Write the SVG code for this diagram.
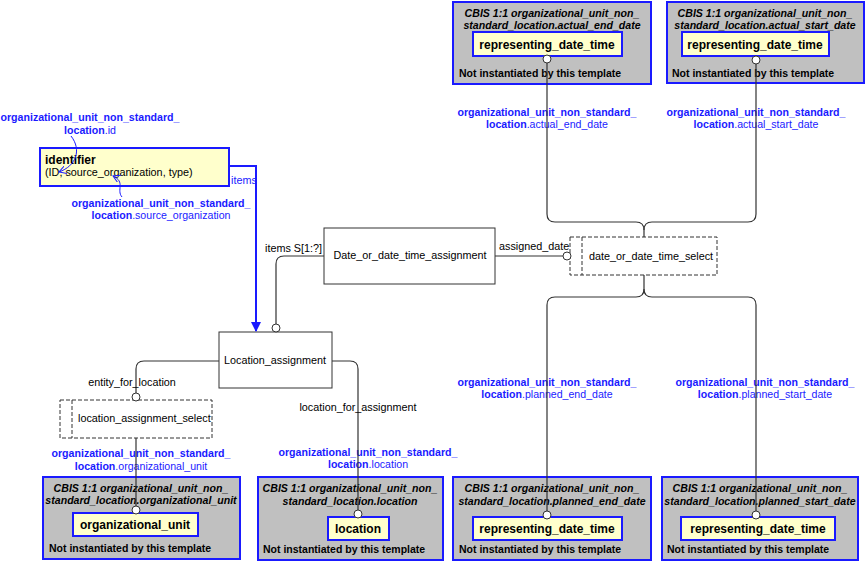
<svg xmlns="http://www.w3.org/2000/svg" width="865" height="561" viewBox="0 0 865 561">
<style>
text{font-family:"Liberation Sans",Arial,sans-serif;font-size:10.8px;fill:#000}
.b{font-weight:bold}
.bl{fill:#1a1aff;font-size:10.6px}
.t{font-weight:bold;font-style:italic;text-anchor:middle;font-size:10.6px}
.c{text-anchor:middle}
.y{font-weight:bold;font-size:12px;text-anchor:middle}
.n{font-weight:bold;font-size:10.5px}
.grey{fill:#c0c0c0;stroke:#1a1aff;stroke-width:2}
.yel{fill:#ffffcc;stroke:#1a1aff;stroke-width:2}
.ent{fill:#fff;stroke:#333;stroke-width:1}
.sel{fill:#fff;stroke:#333;stroke-width:1;stroke-dasharray:4,2}
.ln{fill:none;stroke:#333;stroke-width:1.2}
.circ{fill:#fff;stroke:#333;stroke-width:1}
.blue{fill:none;stroke:#1a1aff;stroke-width:2}
.bthin{fill:none;stroke:#1a1aff;stroke-width:1}
</style>
<defs>
<marker id="ah" markerWidth="10" markerHeight="10" refX="9" refY="5" orient="auto" markerUnits="userSpaceOnUse">
<path d="M0,0 L10,5 L0,10 Z" fill="#1a1aff"/>
</marker>
<marker id="oa" markerWidth="8" markerHeight="8" refX="7" refY="4" orient="auto" markerUnits="userSpaceOnUse">
<path d="M0,0 L7,4 L0,8" fill="none" stroke="#1a1aff" stroke-width="1"/>
</marker>
</defs>

<g id="label_id">
<text x="90" y="121" class="c bl b">organizational_unit_non_standard_</text>
<text x="90" y="134" class="c bl"><tspan class="b">location</tspan>.id</text>
</g>
<g id="label_source_org">
<text x="161" y="207" class="c bl b">organizational_unit_non_standard_</text>
<text x="161" y="219" class="c bl"><tspan class="b">location</tspan>.source_organization</text>
</g>
<g id="label_actual_end">
<text x="547" y="116" class="c bl b">organizational_unit_non_standard_</text>
<text x="547" y="128" class="c bl"><tspan class="b">location</tspan>.actual_end_date</text>
</g>
<g id="label_actual_start">
<text x="756" y="116" class="c bl b">organizational_unit_non_standard_</text>
<text x="756" y="128" class="c bl"><tspan class="b">location</tspan>.actual_start_date</text>
</g>
<g id="label_planned_end">
<text x="547" y="386" class="c bl b">organizational_unit_non_standard_</text>
<text x="547" y="398" class="c bl"><tspan class="b">location</tspan>.planned_end_date</text>
</g>
<g id="label_planned_start">
<text x="765" y="386" class="c bl b">organizational_unit_non_standard_</text>
<text x="765" y="398" class="c bl"><tspan class="b">location</tspan>.planned_start_date</text>
</g>
<g id="label_org_unit">
<text x="141" y="457" class="c bl b">organizational_unit_non_standard_</text>
<text x="141" y="470" class="c bl"><tspan class="b">location</tspan>.organizational_unit</text>
</g>
<g id="label_location">
<text x="368" y="456" class="c bl b">organizational_unit_non_standard_</text>
<text x="368" y="468" class="c bl"><tspan class="b">location</tspan>.location</text>
</g>

<g id="identifier">
<rect class="yel" x="40" y="148" width="189" height="38"/>
<text x="45" y="164" class="b" style="font-size:12px">identifier</text>
<text x="45" y="176">(ID, source_organization, type)</text>
</g>

<g id="date_or_date_time_assignment">
<rect class="ent" x="324" y="228" width="171" height="56"/>
<text x="410" y="259" class="c">Date_or_date_time_assignment</text>
</g>

<g id="location_assignment">
<rect class="ent" x="219" y="332" width="113" height="56"/>
<text x="275" y="364" class="c">Location_assignment</text>
</g>

<g id="date_or_date_time_select">
<rect class="sel" x="570" y="237" width="147" height="38"/>
<line class="sel" x1="582" y1="237" x2="582" y2="275"/>
<text x="651" y="260" class="c">date_or_date_time_select</text>
</g>

<g id="location_assignment_select">
<rect class="sel" x="60" y="400" width="152" height="38"/>
<line class="sel" x1="72" y1="400" x2="72" y2="438"/>
<text x="78" y="422">location_assignment_select</text>
</g>

<g id="cbis_actual_end_date">
<rect class="grey" x="453" y="2" width="198" height="82"/>
<text x="552" y="17" class="t">CBIS 1:1 organizational_unit_non_</text>
<text x="552" y="29" class="t">standard_location.actual_end_date</text>
<rect class="yel" x="473" y="32" width="149" height="24"/>
<text x="547" y="49" class="y">representing_date_time</text>
<text x="459" y="77" class="n">Not instantiated by this template</text>
</g>

<g id="cbis_actual_start_date">
<rect class="grey" x="667" y="2" width="197" height="81"/>
<text x="765" y="17" class="t">CBIS 1:1 organizational_unit_non_</text>
<text x="765" y="29" class="t">standard_location.actual_start_date</text>
<rect class="yel" x="682" y="32" width="147" height="24"/>
<text x="755" y="49" class="y">representing_date_time</text>
<text x="672" y="77" class="n">Not instantiated by this template</text>
</g>

<g id="cbis_planned_end_date">
<rect class="grey" x="453" y="477" width="198" height="83"/>
<text x="552" y="492" class="t">CBIS 1:1 organizational_unit_non_</text>
<text x="552" y="505" class="t">standard_location.planned_end_date</text>
<rect class="yel" x="473" y="517" width="149" height="23"/>
<text x="547" y="533" class="y">representing_date_time</text>
<text x="459" y="553" class="n">Not instantiated by this template</text>
</g>

<g id="cbis_planned_start_date">
<rect class="grey" x="662" y="477" width="196" height="83"/>
<text x="760" y="492" class="t">CBIS 1:1 organizational_unit_non_</text>
<text x="760" y="505" class="t">standard_location.planned_start_date</text>
<rect class="yel" x="681" y="517" width="154" height="23"/>
<text x="758" y="533" class="y">representing_date_time</text>
<text x="667" y="553" class="n">Not instantiated by this template</text>
</g>

<g id="cbis_organizational_unit">
<rect class="grey" x="43" y="477" width="197" height="82"/>
<text x="141" y="492" class="t">CBIS 1:1 organizational_unit_non_</text>
<text x="141" y="504" class="t">standard_location.organizational_unit</text>
<rect class="yel" x="73" y="513" width="125" height="23"/>
<text x="135" y="529" class="y">organizational_unit</text>
<text x="49" y="552" class="n">Not instantiated by this template</text>
</g>

<g id="cbis_location">
<rect class="grey" x="258" y="477" width="185" height="83"/>
<text x="350" y="492" class="t">CBIS 1:1 organizational_unit_non_</text>
<text x="350" y="505" class="t">standard_location.location</text>
<rect class="yel" x="328" y="517" width="61" height="23"/>
<text x="358" y="533" class="y">location</text>
<text x="263" y="553" class="n">Not instantiated by this template</text>
</g>

<g id="connectors">
<path class="ln" d="M547,63 V214 Q547,222 555,222 H636 Q644,222 644,230 V237"/>
<path class="ln" d="M756,64 V214 Q756,222 748,222 H652 Q644,222 644,230"/>
<path class="ln" d="M644,275 V289 Q644,297 636,297 H555 Q547,297 547,305 V511"/>
<path class="ln" d="M644,289 Q644,297 652,297 H748 Q756,297 756,305 V511"/>
<path class="ln" d="M324,256 H284 Q276,256 276,264 V324"/>
<path class="ln" d="M495,256 H563"/>
<path class="ln" d="M219,361 H144 Q136,361 136,369 V393"/>
<path class="ln" d="M332,361 H350 Q358,361 358,369 V510"/>
<path class="ln" d="M136,438 V506"/>
<path class="blue" d="M229,166 H256 V331" marker-end="url(#ah)"/>
<path class="bthin" d="M71,136 C82,150 76,166 59,172" marker-end="url(#oa)"/>
<path class="bthin" d="M122,197 C116,190 126,182 113,176" marker-end="url(#oa)"/>
<circle class="circ" cx="547" cy="59" r="4"/>
<circle class="circ" cx="756" cy="60" r="4"/>
<circle class="circ" cx="547" cy="515" r="4"/>
<circle class="circ" cx="756" cy="515" r="4"/>
<circle class="circ" cx="276" cy="328" r="4"/>
<circle class="circ" cx="567" cy="256" r="4"/>
<circle class="circ" cx="136" cy="397" r="4"/>
<circle class="circ" cx="358" cy="514" r="4"/>
<circle class="circ" cx="136" cy="510" r="4"/>
<text x="322" y="252" text-anchor="end">items S[1:?]</text>
<text x="499" y="250">assigned_date</text>
<text x="231" y="184" style="fill:#1a1aff">items</text>
<text x="132" y="386" class="c">entity_for_location</text>
<text x="358" y="411" class="c">location_for_assignment</text>
</g>
</svg>
